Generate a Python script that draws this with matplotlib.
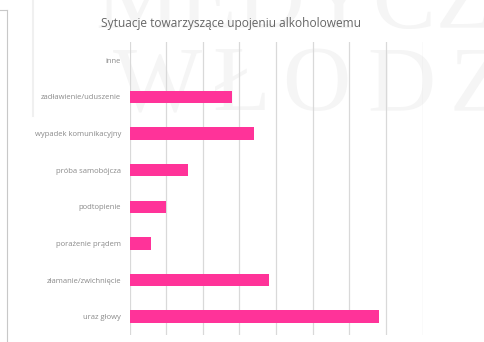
import matplotlib
matplotlib.use("Agg")
import matplotlib.pyplot as plt

categories = ["uraz głowy", "złamanie/zwichnięcie", "porażenie prądem", "podtopienie",
              "próba samobójcza", "wypadek komunikacyjny", "zadławienie/uduszenie", "inne"]
values = [34, 19, 3, 5, 8, 17, 14, 0]
xticks = [0, 5, 10, 15, 20, 25, 30, 35, 40]
title = "Sytuacje towarzyszące upojeniu alkoholowemu"

plt.rcParams['font.family'] = ['Open Sans', 'DejaVu Sans']

W, H = 484, 342
fig = plt.figure(figsize=(4.84, 3.42), dpi=100)
fig.patch.set_facecolor("white")

# faint watermark (background image in the reference)
wm_color = "#f5f5f5"
fig.text(95 / W, 1 - 28 / H, "MEDYCZNA", fontsize=68, family="Liberation Serif",
         color=wm_color, va="baseline", ha="left", zorder=-5)
for letter, px in zip(["W", "Ł", "O", "D", "Z"], [113, 213, 282, 367, 450]):
    fig.text(px / W, 1 - 110 / H, letter, fontsize=68, family="Liberation Serif",
             color=wm_color, va="baseline", ha="left", zorder=-5)
# left frame remnants
fig.add_artist(plt.Line2D([0.0, 7 / W], [1 - 10 / H, 1 - 10 / H], color="#c8c8c8", lw=0.8))
fig.add_artist(plt.Line2D([7 / W, 7 / W], [1 - 10 / H, 0.0], color="#c8c8c8", lw=0.8))
fig.add_artist(plt.Line2D([33 / W, 33 / W], [1.0, 1 - 116 / H], color="#f0f0f0", lw=1.5,
                          zorder=-5))

ax = fig.add_axes([129.5 / W, 7 / H, 293 / W, 293 / H])
ax.set_zorder(1)
ax.set_facecolor("none")
y = range(len(categories))
ax.barh(y, values, height=0.34, color="#FF3399", zorder=3)
ax.set_xlim(0, 40)
ax.set_ylim(-0.5, len(categories) - 0.5)
ax.set_yticks(list(y))
ax.set_yticklabels(categories, fontsize=5.5, color="#8a8a8a")
ax.set_xticks(xticks)
ax.set_xticklabels([str(t) for t in xticks], fontsize=5.5, color="#8a8a8a")
ax.tick_params(length=0, pad=5)
ax.tick_params(axis='y', pad=6)
ax.grid(axis='x', color="#d9d9d9", lw=0.9, zorder=0)
for s in ax.spines.values():
    s.set_visible(False)

fig.text(231 / W, 1 - 23 / H, title, fontsize=8.6, color="#666666", ha="center",
         va="center", zorder=5)

fig.savefig("out.png", dpi=100, facecolor="white")
